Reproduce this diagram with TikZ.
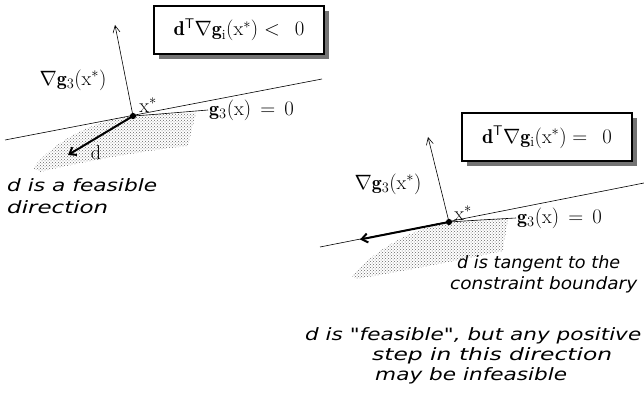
\documentclass[tikz,border=0pt]{standalone}
\usepackage{fontspec}
\usepackage{graphicx}
\newfontfamily\notefam{DejaVu Sans}
\newcommand{\fitw}[2]{\resizebox{#1}{\height}{#2}} % stretch a note line to a width
\usetikzlibrary{arrows.meta, patterns, shadows}

\begin{document}
\begin{tikzpicture}[
    x=1pt, y=-1pt, % work in pixels, y downwards
    dot/.style={fill=black, circle, inner sep=2.2pt}, % style for x*
    lab/.style={font=\fontsize{20}{24}\selectfont, inner sep=1pt},
    note/.style={font=\notefam\itshape\fontsize{17}{21}\selectfont, anchor=base west, inner sep=0pt},
    grad/.style={-{Straight Barb[length=7pt, width=7pt]}, line width=0.6pt},
    dvec/.style={-{Straight Barb[length=6pt, width=9pt]}, line width=2pt},
    region/.style={pattern=crosshatch dots, pattern color=black!60},
    condbox/.style={draw, line width=1.2pt, fill=white, minimum width=170pt, minimum height=48pt,
        font=\fontsize{20}{24}\selectfont,
        drop shadow={shadow xshift=5pt, shadow yshift=-5pt, fill=black!55, opacity=1}}
]
\useasboundingbox (0,0) rectangle (644,395);

% Left: d is a feasible direction
\coordinate (tl1) at (5,140);
\coordinate (tl2) at (322,79);
\coordinate (gl) at (115,25);
\coordinate (dl) at (68,155);

\fill[region] (33,168) .. controls (55,140) and (95,120) .. (133,116)
    .. controls (155,114) and (175,113) .. (196,113) -- (188,146)
    .. controls (150,150) and (90,160) .. (40,172) -- cycle;

\node[dot] (xl) at (133,116) {};
\node[lab] (nl) at (73,80) {$\nabla\mathbf{g}_3(\mathrm{x}^*)$};
\node[lab] (sl) at (148,105) {$\mathrm{x}^*$};
\node[lab, anchor=west] (bl) at (208,110) {$\mathbf{g}_3(\mathrm{x}) \,=\, 0$};
\node[lab] (vl) at (96,153) {$\mathrm{d}$};
\node[condbox] (cl) at (239,30) {$\mathbf{d}^{\mathsf{T}}\nabla\mathbf{g}_{\mathrm{i}}(\mathrm{x}^*) <\;\, 0$};

\draw[line width=0.6pt] (tl1) -- (tl2);
\draw[line width=0.6pt] (xl.center) .. controls (160,114) .. (bl.west);
\draw[grad] (xl.center) -- (gl);
\draw[dvec] (xl.center) -- (dl);

\node[note] (fl1) at (7,192) {\fitw{150pt}{d is a feasible}};
\node[note] (fl2) at (7,213) {\fitw{101pt}{direction}};

% Right: d is tangent to the boundary
\coordinate (tr1) at (320,247);
\coordinate (tr2) at (644,183);
\coordinate (gr) at (428,137);
\coordinate (dr) at (360,239.5);

\fill[region] (352,276) .. controls (370,255) and (405,230) .. (449,222)
    .. controls (470,220) and (490,219) .. (508,219) -- (503,251)
    .. controls (470,258) and (400,272) .. (356,279) -- cycle;

\node[dot] (xr) at (449,222) {};
\node[lab] (nr) at (388,184) {$\nabla\mathbf{g}_3(\mathrm{x}^*)$};
\node[lab] (sr) at (463,213) {$\mathrm{x}^*$};
\node[lab, anchor=west] (br) at (516,218) {$\mathbf{g}_3(\mathrm{x}) \,=\, 0$};
\node[condbox] (cr) at (547,137) {$\mathbf{d}^{\mathsf{T}}\nabla\mathbf{g}_{\mathrm{i}}(\mathrm{x}^*) =\;\, 0$};

\draw[line width=0.6pt] (tr1) -- (tr2);
\draw[line width=0.6pt] (xr.center) .. controls (480,220) .. (br.west);
\draw[grad] (xr.center) -- (gr);
\draw[dvec] (xr.center) -- (dr);

\node[note] (fr1) at (457,268) {\fitw{163pt}{d is tangent to the}};
\node[note] (fr2) at (450,289) {\fitw{187pt}{constraint boundary}};

% Bottom remark
\node[note] (ft1) at (305,340) {\fitw{336pt}{d is "feasible", but any positive}};
\node[note] (ft2) at (372,360) {\fitw{240pt}{step in this direction}};
\node[note] (ft3) at (375,380) {\fitw{192pt}{may be infeasible}};

\end{tikzpicture}
\end{document}
